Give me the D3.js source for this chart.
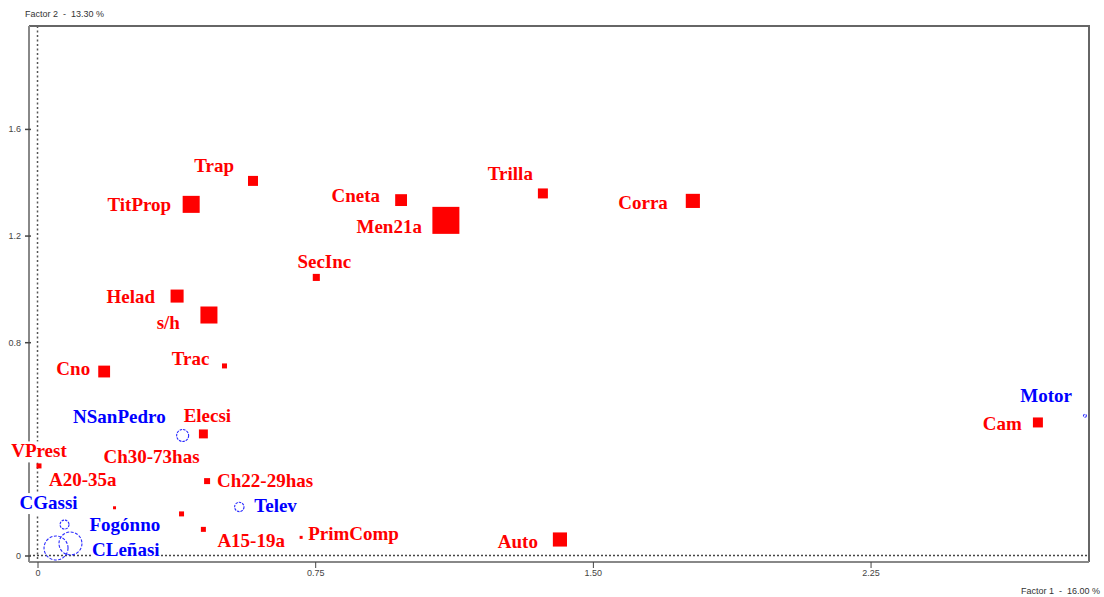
<!DOCTYPE html>
<html>
<head>
<meta charset="utf-8">
<script src="https://cdn.jsdelivr.net/npm/d3@7"></script>
<style>
  html, body { margin: 0; padding: 0; background: #fff; }
  svg { display: block; }
</style>
</head>
<body>
<svg id="chart" width="1104" height="597"></svg>
<script>
// ---- data ----
const names = ["Trap","TitProp","Helad","s/h","SecInc","Trac","Cno","Cneta","Men21a","Trilla","Corra",
  "Elecsi","VPrest","Ch30-73has","A20-35a","Ch22-29has","A15-19a","PrimComp","Auto","Cam",
  "NSanPedro","Motor","Telev","CGassi","Fogónno","CLeñasi"];
const factor1 = [0.582,0.415,0.377,0.463,0.753,0.505,0.180,0.982,1.103,1.365,1.770,
  0.448,0.004,0.389,0.208,0.458,0.448,0.712,1.411,2.702,
  0.392,2.829,0.545,0.073,0.089,0.050];
const factor2 = [1.405,1.317,0.973,0.902,1.043,0.711,0.690,1.333,1.257,1.358,1.330,
  0.456,0.336,0.156,0.179,0.279,0.098,0.068,0.060,0.499,
  0.450,0.524,0.182,0.116,0.045,0.028];
// "active" = red squares, "supp" = blue circles
const kind = ["active","active","active","active","active","active","active","active","active","active","active",
  "active","active","active","active","active","active","active","active","active",
  "supp","supp","supp","supp","supp","supp"];
const weight = [10,29,17,29,5,2.5,14,14,73,10,20,
  8,2.5,2.5,0.9,3.6,2.5,0.9,20,10,
  18,1.1,11,10,66,72];
const xTicks = [0, 0.75, 1.5, 2.25];
const xTickLabels = ["0","0.75","1.50","2.25"];
const yTicks = [0, 0.4, 0.8, 1.2, 1.6];
const yTickLabels = ["0","","0.8","1.2","1.6"];   // 0.4 is hidden under the VPrest label
const xTitle = "Factor 1  -  16.00 %";
const yTitle = "Factor 2  -  13.30 %";

// ---- label placement (layout, pixels relative to the mark) ----
const labelAnchor = ["end","end","end","end","middle","end","end","end","end","end","end",
  "middle","middle","end","end","start","start","start","end","end",
  "end","end","start","middle","start","start"];
const labelDx = [-19,-20,-22,-29,8,-15,-14,-21,-24,-10,-25,
  4,0,18,2,10,14,7,-22,-16,
  -17,-13,15,-16,19,36];
const labelDy = [-15,0,0,7,-16,-7,-3,-5,6,-20,2,
  -18,-15,-57,-28,-1,11,-4,2,1,
  -19,-20,-1,-22,-19,1];

// ---- layout ----
const L = 29, R = 1089, T = 26, B = 562;
const x = d3.scaleLinear().domain([-0.023, 2.840]).range([L, R]);
const y = d3.scaleLinear().domain([-0.0244, 1.986]).range([B, T]);
const side = d3.scaleSqrt().domain([0, 73]).range([0, 27]);
const rad = d3.scaleSqrt().domain([0, 72]).range([0, 12]);

const svg = d3.select("#chart");
const pts = names.map((n, i) => ({name: n, fx: factor1[i], fy: factor2[i], kind: kind[i], w: weight[i],
  anchor: labelAnchor[i], dx: labelDx[i], dy: labelDy[i]}));

// dotted zero lines
svg.append("line").attr("x1", x(0)).attr("x2", x(0)).attr("y1", T).attr("y2", B)
  .attr("stroke", "#555").attr("stroke-width", 1.5).attr("stroke-dasharray", "2,2.5");
svg.append("line").attr("x1", L).attr("x2", R).attr("y1", y(0)).attr("y2", y(0))
  .attr("stroke", "#444").attr("stroke-width", 1.5).attr("stroke-dasharray", "2,2");

// frame top/right
svg.append("path").attr("d", `M${L},${T}H${R}V${B}`).attr("fill", "none")
  .attr("stroke", "#666").attr("stroke-width", 2);

// axes
const xAxis = d3.axisBottom(x).tickValues(xTicks).tickSize(6)
  .tickFormat((d, i) => xTickLabels[i]);
const gx = svg.append("g").attr("transform", `translate(0,${B})`).call(xAxis);
gx.select(".domain").attr("d", `M${L},0H${R}`).attr("stroke", "#888").attr("stroke-width", 2);
gx.selectAll(".tick line").attr("stroke", "#444").attr("stroke-width", 1);
gx.selectAll(".tick text").attr("font-family", "Liberation Sans, Arial, sans-serif")
  .attr("font-size", 9).attr("fill", "#444").attr("dy", "0.9em").attr("y", 6);

const yAxis = d3.axisLeft(y).tickValues(yTicks).tickSize(4)
  .tickFormat((d, i) => yTickLabels[i]);
const gy = svg.append("g").attr("transform", `translate(${L},0)`).call(yAxis);
gy.select(".domain").attr("d", `M0,${T}V${B}`).attr("stroke", "#888").attr("stroke-width", 2);
gy.selectAll(".tick line").attr("stroke", "#444").attr("stroke-width", 1.5).attr("x2", -4).attr("x1", 2);
gy.selectAll(".tick text").attr("font-family", "Liberation Sans, Arial, sans-serif")
  .attr("font-size", 9).attr("fill", "#444").attr("x", -8);

// titles
svg.append("text").attr("x", 25).attr("y", 17).text(yTitle)
  .attr("font-family", "Liberation Sans, Arial, sans-serif").attr("font-size", 9).attr("fill", "#333")
  .attr("xml:space", "preserve");
svg.append("text").attr("x", 1100).attr("y", 594).attr("text-anchor", "end").text(xTitle)
  .attr("font-family", "Liberation Sans, Arial, sans-serif").attr("font-size", 9).attr("fill", "#333")
  .attr("xml:space", "preserve");

// marks
const active = pts.filter(d => d.kind === "active");
const supp = pts.filter(d => d.kind === "supp");
svg.append("g").selectAll("rect").data(active).join("rect")
  .attr("x", d => x(d.fx) - side(d.w) / 2).attr("y", d => y(d.fy) - side(d.w) / 2)
  .attr("width", d => side(d.w)).attr("height", d => side(d.w))
  .attr("fill", "#ff0000");
svg.append("g").selectAll("circle").data(supp).join("circle")
  .attr("cx", d => x(d.fx)).attr("cy", d => y(d.fy)).attr("r", d => rad(d.w))
  .attr("fill", "none").attr("stroke", "#2a2aff").attr("stroke-width", 1.1)
  .attr("stroke-dasharray", d => rad(d.w) > 8 ? "3,1.5" : "2.5,1");

// labels with white backgrounds
const lg = svg.append("g");
pts.forEach(d => {
  const g = lg.append("g");
  const bg = g.append("rect").attr("fill", "#fff");
  const t = g.append("text")
    .attr("x", x(d.fx) + d.dx).attr("y", y(d.fy) + d.dy + 6.5)
    .attr("text-anchor", d.anchor)
    .attr("font-family", "Liberation Serif, Times New Roman, serif")
    .attr("font-weight", "bold").attr("font-size", 19)
    .attr("fill", d.kind === "active" ? "#ff0000" : "#0000ff")
    .text(d.name);
  const bb = t.node().getBBox();
  bg.attr("x", bb.x - 1).attr("y", bb.y + 1).attr("width", bb.width + 2).attr("height", bb.height);
});
</script>
</body>
</html>
